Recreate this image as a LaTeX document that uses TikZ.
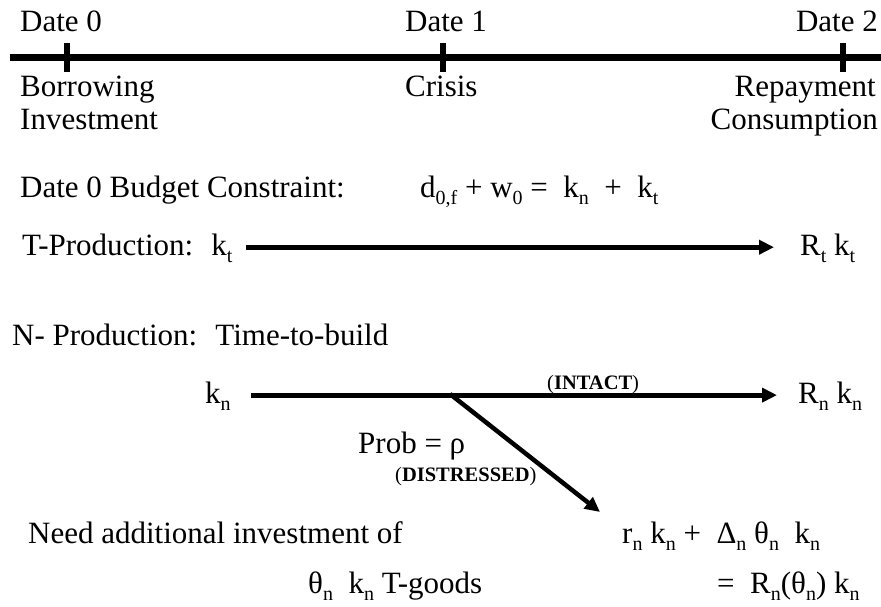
\documentclass[tikz,border=0pt]{standalone}
\usepackage{fontspec}
\setmainfont{Liberation Serif}
\usetikzlibrary{arrows.meta,calc}
\newcommand\lo[1]{\raisebox{-0.25em}{\fontsize{20}{20}\selectfont #1}}
\tikzset{
  txt/.style={inner sep=0pt, font=\fontsize{31}{36}\selectfont},
  tag/.style={inner sep=0pt, font=\fontsize{20.5}{24}\selectfont},
  flow/.style={line width=5pt, -{Triangle[length=15pt,width=14pt]}},
}

\begin{document}
\begin{tikzpicture}[x=1pt, y=-1pt]
		\useasboundingbox (0, 0) rectangle (881, 607);
		%%%%% TIMELINE %%%%%
		\draw[line width=7pt] (10, 58) -- (881, 58);
		\draw[line width=6pt] (67, 43) -- (67, 72);
		\draw[line width=6pt] (443, 43) -- (443, 72);
		\draw[line width=6pt] (843, 43) -- (843, 72);
		
		\node[txt, anchor=base west] (d0) at (20, 32) {Date 0};
		\node[txt, anchor=base west] (d1) at (405, 32) {Date 1};
		\node[txt, anchor=base east] (d2) at (878, 32) {Date 2};
		
		\node[txt, anchor=base west] (borrow) at (20, 97) {Borrowing};
		\node[txt, anchor=base west] (invest) at (20, 130) {Investment};
		\node[txt, anchor=base west] (crisis) at (405, 97) {Crisis};
		\node[txt, anchor=base east] (repay) at (876, 97) {Repayment};
		\node[txt, anchor=base east] (consume) at (878, 130) {Consumption};
		
		%%%%% BUDGET %%%%%
		\node[txt, anchor=base west] (budget) at (20, 197) {Date 0 Budget Constraint:};
		\node[txt, anchor=base west] (bc) at (420, 197) {d\lo{0,f} + w\lo{0} = ~k\lo{n} ~+ ~k\lo{t}};
		
		%%%%% T-PRODUCTION %%%%%
		\node[txt, anchor=base west] (tprod) at (22, 255) {T-Production: ~k\lo{t}};
		\node[txt, anchor=base west] (rtkt) at (800, 255) {R\lo{t} k\lo{t}};
		\draw[flow] ($(tprod.east)+(13, -1)$) -- ($(rtkt.west)+(-26, -1)$);
		
		%%%%% N-PRODUCTION %%%%%
		\node[txt, anchor=base west] (nprod) at (12, 345) {N- Production: ~Time-to-build};
		\node[txt, anchor=base west] (kn) at (205, 403) {k\lo{n}};
		\node[txt, anchor=base west] (rnkn) at (798, 403) {R\lo{n} k\lo{n}};
		\draw[flow] ($(kn.east)+(20, -1)$) -- ($(rnkn.west)+(-21, -1)$);
		\coordinate (split) at (450, 394);
		\node[tag, anchor=base west] (intact) at (547, 389) {(\textbf{INTACT})};
		
		\node[txt, anchor=base west] (prob) at (358, 453) {Prob = ρ};
		\node[tag, anchor=base west] (distress) at (395, 481) {(\textbf{DISTRESSED})};
		
		\node[txt, anchor=base west] (need) at (28, 543) {Need additional investment of};
		\node[txt, anchor=base west] (rkn) at (622, 543) {r\lo{n} k\lo{n} + ~Δ\lo{n} θ\lo{n} ~k\lo{n}};
		\node[txt, anchor=base west] (goods) at (308, 593) {θ\lo{n} ~k\lo{n} T-goods};
		\node[txt, anchor=base west] (rtheta) at (717, 593) {= ~R\lo{n}(θ\lo{n}) k\lo{n}};
		\draw[flow, line width=4.5pt] (split) -- ($(rkn.base west)+(-22, -31)$);
		%%%%% END %%%%%
\end{tikzpicture}
\end{document}
